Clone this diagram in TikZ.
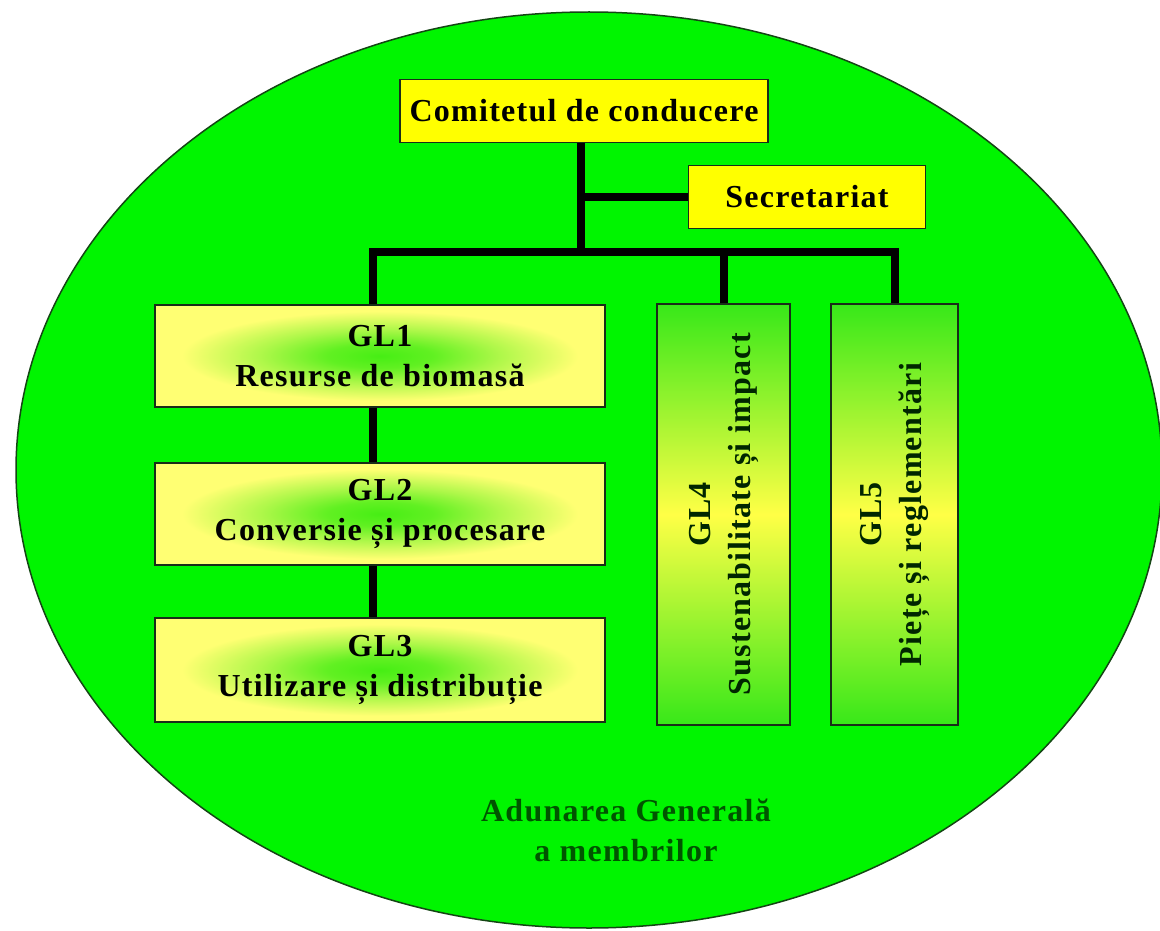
\documentclass[tikz,border=0pt]{standalone}
\usepackage{fontspec}
\setmainfont{Liberation Serif}[LetterSpace=4]
\definecolor{elgreen}{RGB}{0,245,0}
\definecolor{eledge}{RGB}{20,70,20}
\definecolor{boxyel}{RGB}{255,255,0}
\definecolor{paley}{RGB}{255,255,115}
\definecolor{glowg}{RGB}{70,238,20}
\definecolor{darkg}{RGB}{0,85,0}
\definecolor{gtop}{RGB}{55,232,25}
\definecolor{gmid}{RGB}{255,255,70}
\definecolor{bordc}{RGB}{25,45,25}
\pgfdeclareradialshading{glow}{\pgfpoint{0bp}{0bp}}{color(0bp)=(glowg); color(6bp)=(glowg!85!paley); color(13bp)=(glowg!45!paley); color(22bp)=(paley); color(50bp)=(paley)}
\tikzset{
  lbl/.style={font=\fontsize{32}{40}\selectfont\bfseries, align=center},
  ybox/.style={lbl, draw=bordc, line width=1.6pt, fill=boxyel, inner sep=0pt},
  glowbox/.style={lbl, draw=bordc, line width=1.6pt, shading=glow, inner sep=0pt, minimum width=450pt},
  vbox/.style={draw=bordc, line width=1.6pt, top color=gtop, bottom color=gtop, middle color=gmid, inner sep=0pt, minimum height=421pt},
  conn/.style={line width=8pt, black}
}
\begin{document}
\begin{tikzpicture}[x=1pt,y=-1pt]
\useasboundingbox (0,0) rectangle (1160,931);
\fill[white] (0,0) rectangle (1160,931);
\draw[fill=elgreen, draw=eledge, line width=1.5pt] (589,470) ellipse [x radius=573, y radius=458];

\node[ybox, minimum width=368pt, minimum height=63pt] (com) at (584,111) {Comitetul de conducere};
\node[ybox, minimum width=237pt, minimum height=63pt] (sec) at (807,197) {Secretariat};

\node[glowbox, minimum height=102pt] (gl1) at (380,356) {GL1\\Resurse de biomasă};
\node[glowbox, minimum height=102pt] (gl2) at (380,514) {GL2\\Conversie și procesare};
\node[glowbox, minimum height=104pt] (gl3) at (380,670) {GL3\\Utilizare și distribuție};

\node[vbox, minimum width=133pt] (gl4) at (723.5,514.5) {};
\node[vbox, minimum width=127pt] (gl5) at (894.5,514.5) {};
\node[lbl, rotate=90, text=black!85!green] (gl4t) at (gl4) {GL4\\Sustenabilitate și impact};
\node[lbl, rotate=90, text=black!85!green] (gl5t) at (gl5) {GL5\\Piețe și reglementări};

\node[lbl, text=darkg] (ag) at (626,830) {Adunarea Generală\\a membrilor};

\coordinate (bus) at (581,252);
\draw[conn] (com.south -| bus) -- (bus);
\draw[conn] (bus |- sec.west) -- (sec.west);
\draw[conn] ([xshift=-7pt]gl1.north) |- (bus) -| (gl5.north);
\draw[conn] (gl4.north) -- (gl4.north |- bus);
\draw[conn] ([xshift=-7pt]gl1.south) -- ([xshift=-7pt]gl2.north);
\draw[conn] ([xshift=-7pt]gl2.south) -- ([xshift=-7pt]gl3.north);
\end{tikzpicture}
\end{document}
